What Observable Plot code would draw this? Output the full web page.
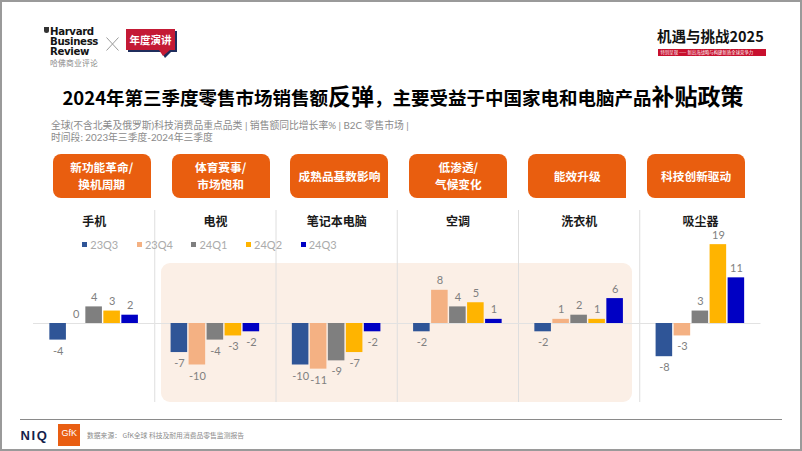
<!DOCTYPE html>
<html>
<head>
<meta charset="utf-8">
<script src="https://cdn.jsdelivr.net/npm/d3@7"></script>
<script src="https://cdn.jsdelivr.net/npm/@observablehq/plot@0.6"></script>
<style>
html,body{margin:0;padding:0;background:#fff;}
#page{position:relative;width:802px;height:451px;overflow:hidden;background:#fff;font-family:Lato,"Noto Sans CJK SC",sans-serif;}
.abs{position:absolute;}
#frameBorder{left:0;top:0;width:802px;height:451px;box-sizing:border-box;border:2px solid #9a9a9a;pointer-events:none;z-index:10;}
#hbrcn{left:50px;top:58.5px;font-family:"Noto Sans CJK SC";font-size:7.8px;line-height:8px;color:#8a8a8a;letter-spacing:0.2px;}
#shield{left:44px;top:27px;width:5px;height:6px;background:#333;border-radius:0 0 2.5px 2.5px;}
#bubble{left:126px;top:29px;width:49px;height:21px;background:#C41A35;color:#fff;font-family:"Noto Sans CJK SC";font-weight:bold;font-size:10.5px;line-height:21px;text-align:center;box-shadow:2px 2px 0 #1F2D5C;}
#tail{left:160px;top:50px;width:0;height:0;border-left:5px solid transparent;border-right:8px solid transparent;border-top:8px solid #1F2D5C;}
#tail2{left:159px;top:50px;width:0;height:0;border-left:4px solid transparent;border-right:7px solid transparent;border-top:6px solid #C41A35;}
#rt{left:657px;top:27px;font-family:"Noto Sans CJK SC";font-weight:bold;font-size:14.5px;line-height:17px;color:#111;white-space:nowrap;}
#rtbar{left:657.5px;top:49.3px;width:108px;height:6.7px;background:#C8102E;color:#fff;font-family:"Noto Sans CJK SC";font-size:4.4px;line-height:6.7px;white-space:nowrap;padding-left:3px;box-sizing:border-box;}
#title{left:2px;top:80px;width:802px;text-align:center;font-family:"Noto Sans CJK SC";font-weight:bold;font-size:18.5px;line-height:30px;color:#000;white-space:nowrap;}
#title .big{font-size:23px;}
#sub{left:51px;top:119px;font-family:Lato,"Noto Sans CJK SC";font-size:9.8px;line-height:12px;color:#8a8a8a;white-space:nowrap;}
#drivers{left:52.7px;top:154.3px;display:flex;gap:20.9px;}
.drv{width:98px;height:43.4px;background:#E95E0F;border-radius:8px 8px 0 8px;color:#fff;font-family:"Noto Sans CJK SC";font-weight:bold;font-size:11.7px;line-height:16.6px;display:flex;align-items:center;justify-content:center;text-align:center;white-space:pre;}
#beige{left:160.7px;top:262.7px;width:471px;height:139px;background:#FBEFE6;border-radius:9px;}
#chart{left:0;top:200px;}
#legend{left:82.3px;top:238px;}
.lg-swatches{font-family:Lato,sans-serif !important;font-size:11px !important;margin:0 !important;color:#ababab;}
.lg-swatches-wrap{min-height:0 !important;height:13px;line-height:13px;flex-wrap:nowrap !important;}
.lg-swatch{width:54.6px;margin-right:0 !important;display:inline-flex;align-items:center;}
.lg-swatch svg{margin-right:3px !important;}
#footline{left:20px;top:419px;width:762px;height:1px;background:#8a8a8a;}
#niq{left:20.5px;top:428px;font-family:"Liberation Sans",Arial,sans-serif;font-weight:bold;font-size:13px;line-height:16px;color:#15224b;letter-spacing:1.6px;}
#gfk{left:58.3px;top:424px;width:21.7px;height:21.7px;background:#E95E12;color:#fff;font-family:"Liberation Sans",Arial,sans-serif;font-size:9px;line-height:19px;text-align:center;}
#src{left:87px;top:431px;font-family:"Noto Sans CJK SC";font-size:6.8px;line-height:9px;color:#8a8a8a;white-space:nowrap;}
</style>
</head>
<body>
<div id="page">
  <div id="shield" class="abs"></div>
  <svg class="abs" style="left:50px;top:24px;overflow:visible" width="52" height="33">
    <text font-family="DejaVu Sans, sans-serif" font-weight="bold" font-size="10.2" letter-spacing="-0.35" fill="#141414"><tspan x="0" y="10.8">Harvard</tspan><tspan x="0" y="21.1">Business</tspan><tspan x="0" y="31.4">Review</tspan></text>
  </svg>
  <div id="hbrcn" class="abs">哈佛商业评论</div>
  <svg class="abs" style="left:106px;top:37px" width="13" height="14"><line x1="0.5" y1="0.5" x2="12.5" y2="13.5" stroke="#9a9a9a" stroke-width="1"/><line x1="12.5" y1="0.5" x2="0.5" y2="13.5" stroke="#9a9a9a" stroke-width="1"/></svg>
  <div id="tail" class="abs"></div>
  <div id="bubble" class="abs">年度演讲</div>
  <div id="tail2" class="abs"></div>
  <div id="rt" class="abs">机遇与挑战2025</div>
  <div id="rtbar" class="abs">特别呈现 —— 新出海战略与构建新质全球竞争力</div>
  <div id="title" class="abs">2024年第三季度零售市场销售额<span class="big">反弹</span>，主要受益于中国家电和电脑产品<span class="big">补贴政策</span></div>
  <div id="sub" class="abs"></div>
  <div id="drivers" class="abs"></div>
  <div id="beige" class="abs"></div>
  <div id="chart" class="abs"></div>
  <div id="legend" class="abs"></div>
  <div id="footline" class="abs"></div>
  <div id="niq" class="abs">NIQ</div>
  <div id="gfk" class="abs">GfK</div>
  <div id="src" class="abs">数据来源： GfK全球 科技及耐用消费品零售监测报告</div>
  <div id="frameBorder" class="abs"></div>
</div>
<script>
// ---- data ----
const categories = ["手机", "电视", "笔记本电脑", "空调", "洗衣机", "吸尘器"];
const quarters = ["23Q3", "23Q4", "24Q1", "24Q2", "24Q3"];
const quarterColors = ["#2F5597", "#F4B183", "#7F7F7F", "#FFB400", "#0000C4"];
const phone  = [-4, 0, 4, 3, 2];
const tv     = [-7, -10, -4, -3, -2];
const laptop = [-10, -11, -9, -7, -2];
const aircon = [-2, 8, 4, 5, 1];
const washer = [-2, 1, 2, 1, 6];
const vacuum = [-8, -3, 3, 19, 11];
const drivers = ["新功能革命/\n换机周期", "体育赛事/\n市场饱和", "成熟品基数影响", "低渗透/\n气候变化", "能效升级", "科技创新驱动"];
const subtitleLines = ["全球(不含北美及俄罗斯)科技消费品重点品类 | 销售额同比增长率% | B2C 零售市场 |", "时间段: 2023年三季度-2024年三季度"];

const series = [phone, tv, laptop, aircon, washer, vacuum];
const rows = categories.flatMap((c, i) => quarters.map((q, j) => ({category: c, quarter: q, value: series[i][j]})));

// ---- html text ----
d3.select("#sub").selectAll("div").data(subtitleLines).join("div").text(d => d);
d3.select("#drivers").selectAll("div").data(drivers).join("div").attr("class", "drv").text(d => d);

// ---- chart layout ----
const W = 802, H = 210;
const mL = 33, mR = 41.5, mT = 10, mB = 8;
const pxPerUnit = 4.15, zeroAt = 123;
const yMax = (zeroAt - mT) / pxPerUnit, yMin = -(H - mB - zeroAt) / pxPerUnit;
const padIn = 0.08, padOut = 0.908;
const facetW = (W - mL - mR) / categories.length;
const step = facetW / (quarters.length - padIn + 2 * padOut);
const firstBandCenter = padOut * step + step * (1 - padIn) / 2;

const plot = Plot.plot({
  width: W, height: H,
  marginLeft: mL, marginRight: mR, marginTop: mT, marginBottom: mB,
  style: {background: "transparent", fontFamily: "Lato, 'Noto Sans CJK SC', sans-serif", overflow: "visible"},
  fx: {domain: categories, padding: 0, round: false, axis: null},
  x: {domain: quarters, paddingInner: padIn, paddingOuter: padOut, round: false, axis: null},
  y: {domain: [yMin, yMax], axis: null},
  color: {domain: quarters, range: quarterColors},
  marks: [
    Plot.ruleX(categories.slice(1), {fx: d => d, x: () => quarters[0], dx: -firstBandCenter, stroke: "#dedede", strokeWidth: 1}),
    Plot.ruleY([0], {stroke: "#e2e2e2", strokeWidth: 1}),
    Plot.barY(rows, {fx: "category", x: "quarter", y: "value", fill: "quarter"}),
    Plot.text(rows, {filter: d => d.value >= 0, fx: "category", x: "quarter", y: "value", text: d => String(d.value), dy: -9.5, fontSize: 11, fill: "#808080"}),
    Plot.text(rows, {filter: d => d.value < 0, fx: "category", x: "quarter", y: "value", text: d => String(d.value), dy: 11, fontSize: 11, fill: "#808080"}),
    Plot.text(categories, {fx: d => d, text: d => d, frameAnchor: "top", dy: 6.5, fontSize: 12, fontWeight: "bold", fill: "#1a1a1a", fontFamily: "'Noto Sans CJK SC', sans-serif"})
  ]
});
document.getElementById("chart").appendChild(plot);

const legend = Plot.legend({
  color: {domain: quarters, range: quarterColors},
  legend: "swatches", swatchSize: 5, className: "lg"
});
document.getElementById("legend").appendChild(legend);
</script>
</body>
</html>
